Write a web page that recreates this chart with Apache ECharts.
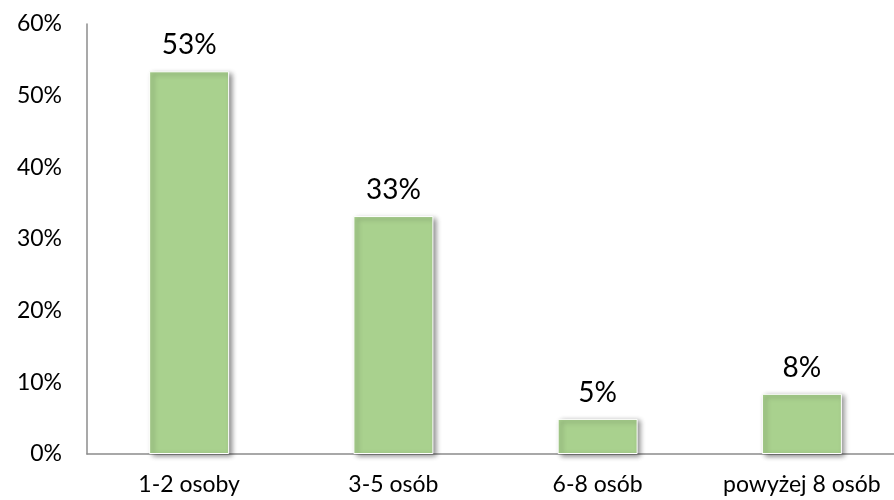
<!DOCTYPE html>
<html><head><meta charset="utf-8">
<script src="https://cdn.jsdelivr.net/npm/echarts@6/dist/echarts.min.js"></script>
<style>html,body{margin:0;padding:0;background:#fff}#c{width:894px;height:500px}</style>
</head><body><div id="c"></div>
<script>
const categories = ['1-2 osoby', '3-5 osób', '6-8 osób', 'powyżej 8 osób'];
const values = [0.534, 0.332, 0.049, 0.084];
const yTicks = [0, 0.1, 0.2, 0.3, 0.4, 0.5, 0.6];

const chart = echarts.init(document.getElementById('c'));
chart.setOption({
  animation: false,
  backgroundColor: '#fff',
  textStyle: { fontFamily: 'Lato, Carlito, sans-serif' },
  grid: { left: 87, width: 817, top: 24, height: 430, outerBoundsMode: 'none' },
  xAxis: {
    type: 'category', data: categories,
    axisLine: { lineStyle: { color: '#8c8c8c', width: 1.5 } },
    axisTick: { show: false },
    axisLabel: { color: '#000', fontSize: 23, margin: 19, interval: 0, hideOverlap: false, fontFamily: 'Lato' }
  },
  yAxis: {
    type: 'value', min: yTicks[0], max: yTicks[yTicks.length - 1], interval: 0.1,
    axisLine: { show: true, lineStyle: { color: '#8c8c8c', width: 1.5 } },
    axisTick: { show: false },
    splitLine: { show: false },
    axisLabel: { color: '#000', fontSize: 23, margin: 25, fontFamily: 'Lato',
      formatter: v => Math.round(v * 100) + '%' }
  },
  series: [{
    type: 'bar', data: values, barWidth: 80,
    itemStyle: { color: '#a9d18e', borderColor: '#ffffff', borderWidth: 1,
      shadowColor: 'rgba(0,0,0,0.45)', shadowBlur: 5, shadowOffsetX: 3, shadowOffsetY: 2 },
    label: { show: true, position: 'top', distance: 12, color: '#000', fontSize: 28,
      fontFamily: 'Lato', formatter: p => Math.round(p.value * 100) + '%' }
  }]
});
</script></body></html>
